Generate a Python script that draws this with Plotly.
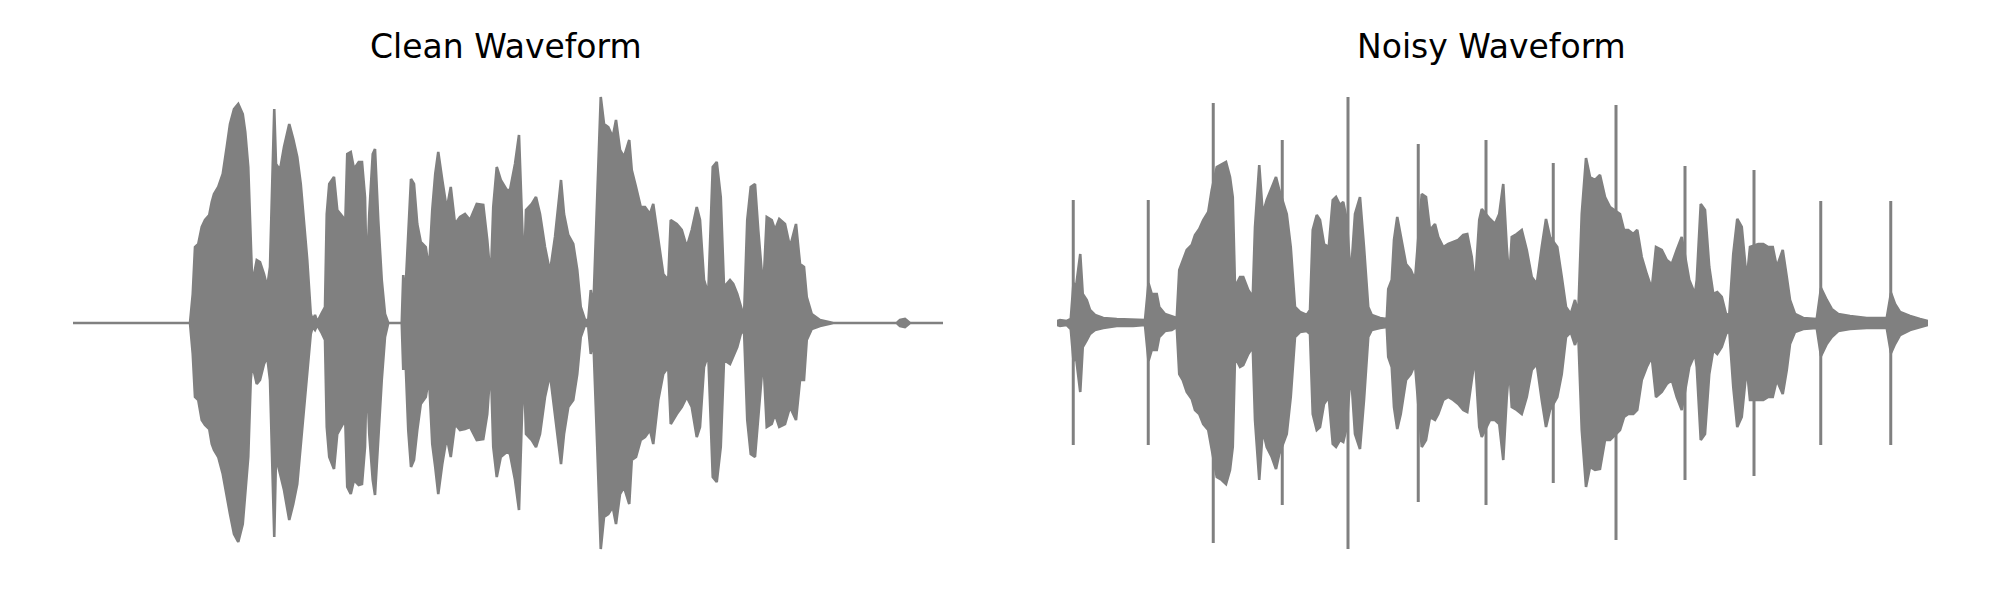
import plotly.graph_objects as go

# ---------------- data (time in ms, amplitude in int16 counts) ----------------
clean_t_ms = [
    0, 468, 479, 488, 501, 515, 528, 545, 555, 564,
    581, 599, 615, 628, 644, 661, 679, 689, 701, 711,
    717, 735, 748, 764, 777, 788, 796, 805, 812, 828,
    844, 865, 881, 897, 911, 924, 937, 951, 959, 968,
    977, 993, 1008, 1015, 1025, 1044, 1057, 1079, 1089, 1097,
    1111, 1124, 1143, 1156, 1168, 1175, 1185, 1199, 1208, 1221,
    1235, 1248, 1261, 1315, 1321, 1328, 1341, 1352, 1364, 1377,
    1391, 1411, 1424, 1437, 1449, 1461, 1477, 1495, 1511, 1528,
    1548, 1568, 1588, 1615, 1641, 1657, 1671, 1681, 1695, 1711,
    1735, 1748, 1768, 1784, 1796, 1804, 1812, 1835, 1852, 1868,
    1888, 1908, 1928, 1952, 1964, 1981, 2001, 2017, 2031, 2048,
    2061, 2071, 2081, 2097, 2111, 2124, 2141, 2159, 2172, 2188,
    2204, 2225, 2235, 2252, 2271, 2288, 2308, 2321, 2341, 2361,
    2381, 2391, 2415, 2435, 2455, 2475, 2495, 2508, 2524, 2541,
    2559, 2575, 2591, 2604, 2628, 2641, 2657, 2671, 2684, 2697,
    2711, 2728, 2741, 2761, 2775, 2795, 2808, 2825, 2848, 2868,
    2892, 2908, 2924, 2935, 2955, 2988, 3041, 3295, 3308, 3328,
    3348, 3480]

clean_max = [
    0, 0, 2900, 7600, 7900, 9600, 10300, 10800, 12100, 12900,
    13600, 14900, 17600, 19900, 21400, 21900, 20900, 19100, 15600, 6900,
    3900, 6300, 6100, 4900, 3600, 5600, 14300, 21400, 15900, 15300,
    17600, 19900, 18400, 16600, 13900, 10300, 6300, 900, 300, 800,
    100, 900, 1600, 10900, 13900, 14600, 11300, 10600, 9900, 16900,
    17100, 15400, 16100, 16100, 12600, 4300, 10900, 16900, 17400, 10300,
    4300, 900, 0, 0, 4800, 2300, 9300, 14400, 13900, 9900,
    8100, 7600, 5300, 11300, 14900, 17100, 14300, 11400, 13600, 9900,
    10600, 10900, 10300, 11900, 11800, 8300, 4300, 11600, 15600, 14300,
    13300, 13300, 15900, 18800, 10300, 4900, 11300, 11900, 12600, 10900,
    7600, 5100, 8600, 14300, 10900, 8800, 7900, 5300, 1600, 300,
    300, 3300, 1300, 12600, 22600, 19900, 19600, 18600, 20300, 17300,
    16600, 18300, 15300, 13600, 11600, 11600, 10900, 11900, 8300, 4900,
    4300, 10300, 9900, 9300, 7600, 9300, 11600, 10300, 4300, 2900,
    15600, 16100, 12600, 3600, 4300, 3900, 2900, 1600, 600, 10300,
    13600, 13900, 9300, 3300, 10600, 10300, 9300, 10400, 9900, 7600,
    9900, 5900, 5600, 2600, 900, 300, 0, 0, 300, 400,
    0, 0]

clean_min = [
    0, 0, -3100, -7400, -7700, -9700, -10200, -10600, -12100, -12700,
    -13400, -15100, -17400, -19100, -21100, -21900, -20100, -17400, -13400, -5700,
    -4100, -6100, -5700, -4100, -3400, -5700, -14100, -21400, -13400, -15100,
    -16700, -19700, -18100, -16100, -12400, -9100, -5100, -1100, -400, -700,
    -200, -900, -1700, -10400, -13400, -14600, -11100, -10100, -9700, -16400,
    -17100, -15700, -16200, -16100, -12400, -4700, -11100, -15700, -17200, -11100,
    -5700, -1400, 0, 0, -4700, -2400, -10700, -14400, -13700, -10700,
    -8100, -7400, -5400, -12100, -14400, -17100, -14100, -11400, -13400, -10100,
    -10700, -10600, -10400, -11700, -11600, -9100, -4100, -12400, -15400, -13400,
    -12900, -13100, -15700, -18700, -9100, -4700, -11100, -11700, -12400, -11100,
    -7400, -5100, -9100, -14100, -11100, -8400, -7700, -5100, -1400, -200,
    -400, -3100, -1400, -12400, -22600, -19400, -19100, -18400, -20100, -17100,
    -16400, -18100, -13700, -13400, -11700, -11400, -10700, -12100, -7700, -5100,
    -4400, -10100, -9100, -8400, -7400, -8400, -11400, -10400, -4400, -3100,
    -15400, -15900, -12400, -3700, -4100, -3400, -2400, -1100, -600, -9700,
    -13100, -13400, -9100, -3400, -10400, -10100, -9100, -10400, -10100, -8400,
    -9700, -5700, -5700, -1700, -600, -300, 0, 0, -300, -400,
    0, 0]

noisy_t_ms = [
    0, 12, 39, 55, 66, 76, 93, 103, 119, 132,
    152, 185, 239, 305, 352, 366, 379, 399, 409, 432,
    459, 479, 489, 503, 519, 539, 552, 569, 585, 605,
    619, 639, 659, 676, 692, 703, 712, 732, 745, 765,
    783, 792, 809, 823, 839, 859, 876, 889, 919, 935,
    952, 972, 999, 1012, 1023, 1039, 1052, 1068, 1087, 1103,
    1116, 1132, 1145, 1159, 1175, 1192, 1212, 1228, 1245, 1259,
    1292, 1319, 1325, 1339, 1348, 1361, 1375, 1396, 1415, 1432,
    1459, 1476, 1492, 1512, 1525, 1545, 1565, 1585, 1605, 1625,
    1641, 1659, 1672, 1689, 1699, 1732, 1752, 1769, 1785, 1799,
    1809, 1819, 1839, 1859, 1879, 1899, 1919, 1939, 1956, 1972,
    2001, 2019, 2036, 2055, 2072, 2085, 2099, 2116, 2132, 2152,
    2172, 2192, 2212, 2252, 2268, 2285, 2305, 2321, 2339, 2359,
    2379, 2396, 2419, 2439, 2459, 2479, 2499, 2529, 2552, 2559,
    2575, 2592, 2609, 2625, 2641, 2659, 2676, 2689, 2705, 2721,
    2739, 2759, 2772, 2805, 2825, 2845, 2863, 2879, 2903, 2919,
    2932, 2952, 2985, 3039, 3056, 3079, 3099, 3125, 3172, 3239,
    3319, 3336, 3352, 3372, 3412, 3452, 3484]

noisy_max = [
    200, 300, 200, 400, 4000, 3600, 6900, 2900, 2300, 1300,
    800, 500, 400, 300, 300, 4000, 2900, 2900, 1600, 900,
    700, 500, 5300, 6300, 7300, 7800, 8800, 9400, 10300, 11100,
    13300, 15600, 15900, 16100, 14600, 12600, 3600, 4600, 4600, 3300,
    2600, 9600, 15800, 10900, 12300, 13600, 14600, 13300, 10900, 7600,
    1600, 1100, 800, 1300, 9300, 10800, 10300, 7900, 7600, 12300,
    12600, 11800, 12100, 10300, 4600, 10900, 12600, 7600, 1600, 800,
    500, 400, 3400, 4300, 8300, 10600, 8600, 5900, 5300, 4300,
    12900, 12600, 9300, 9900, 8600, 7600, 7900, 8100, 8300, 8800,
    8900, 6600, 3600, 10300, 11400, 10400, 9900, 10900, 13900, 7600,
    4300, 8600, 8900, 9300, 7300, 4600, 3900, 7600, 10400, 8600,
    7600, 4600, 1600, 900, 2300, 900, 10900, 16500, 14600, 14300,
    14800, 12600, 11600, 10900, 9300, 9300, 8900, 9300, 6600, 4900,
    3400, 7600, 7300, 6300, 5900, 7300, 8600, 4300, 2900, 4300,
    11900, 11300, 5600, 2900, 3100, 2600, 900, 800, 6900, 10400,
    9600, 4300, 7600, 7900, 7900, 7600, 7600, 5600, 7300, 4600,
    2300, 900, 500, 400, 3500, 2300, 1400, 900, 700, 500,
    500, 3000, 1900, 1100, 700, 400, 200]

noisy_min = [
    -200, -300, -200, -600, -3800, -3400, -6900, -2400, -1700, -1100,
    -700, -500, -300, -300, -200, -3800, -2700, -2700, -1400, -800,
    -700, -400, -5100, -5700, -6900, -7600, -8700, -9100, -10100, -10700,
    -12700, -15400, -15700, -16100, -14700, -12400, -3400, -4400, -4200, -3100,
    -2400, -9700, -15700, -10700, -12400, -13400, -14600, -13100, -11100, -7400,
    -1400, -900, -800, -1100, -9100, -10700, -10400, -8100, -7400, -12100,
    -12400, -11700, -11900, -10400, -4700, -11100, -12600, -7700, -1400, -700,
    -500, -400, -3400, -4400, -8400, -10600, -9100, -5700, -5100, -4100,
    -12400, -11700, -9400, -9700, -9100, -7700, -7400, -7700, -8100, -8700,
    -8900, -5700, -3400, -10400, -11400, -9700, -9700, -10100, -13700, -7400,
    -4400, -8400, -8700, -9100, -7400, -4700, -4100, -7700, -10400, -8700,
    -7400, -5100, -1400, -900, -2200, -1100, -10700, -16400, -14400, -14700,
    -14600, -11700, -11700, -10700, -9400, -9100, -9100, -8700, -5700, -4400,
    -3400, -7400, -6900, -6100, -5700, -7400, -8700, -4400, -3100, -4400,
    -11700, -11100, -5100, -2700, -3100, -2400, -1100, -700, -6400, -10400,
    -9400, -4400, -7700, -7700, -7700, -7400, -7400, -5700, -7100, -4700,
    -2100, -900, -600, -500, -3300, -2100, -1400, -800, -600, -500,
    -500, -3000, -2100, -1200, -700, -400, -200]

# periodic noise clicks in the noisy recording
click_t_ms = [65, 365, 625, 901, 1164, 1445, 1716, 1985, 2236, 2512, 2788, 3055, 3335]
click_max = [12300, 12300, 22000, 18300, 22600, 17900, 18300, 16000, 21800, 15700, 15300, 12200, 12200]
click_min = [-12200, -12200, -22000, -18200, -22600, -17900, -18200, -16000, -21700, -15700, -15300, -12200, -12200]

titles = ["Clean Waveform", "Noisy Waveform"]

# ---------------- figure ----------------
GRAY = "#808080"
fig = go.Figure()


def envelope_trace(t, hi, lo, xa, ya):
    xs = list(t) + list(t)[::-1]
    ys = list(hi) + list(lo)[::-1]
    return go.Scatter(x=xs, y=ys, mode="lines", fill="toself",
                      fillcolor=GRAY, line=dict(color=GRAY, width=2.6),
                      xaxis=xa, yaxis=ya, hoverinfo="skip", showlegend=False)


fig.add_trace(envelope_trace(clean_t_ms, clean_max, clean_min, "x", "y"))
fig.add_trace(envelope_trace(noisy_t_ms, noisy_max, noisy_min, "x2", "y2"))

sx, sy = [], []
for t, hi, lo in zip(click_t_ms, click_max, click_min):
    sx += [t, t, None]
    sy += [hi, lo, None]
fig.add_trace(go.Scatter(x=sx, y=sy, mode="lines", line=dict(color=GRAY, width=3),
                         xaxis="x2", yaxis="y2", hoverinfo="skip", showlegend=False))

axis_off = dict(visible=False, showgrid=False, zeroline=False, showticklabels=False, fixedrange=True)
yr = [-28500, 31500]
title_font = dict(family="DejaVu Sans", size=33, color="black")
fig.update_layout(
    width=2000, height=600,
    margin=dict(l=0, r=0, t=0, b=0),
    paper_bgcolor="white", plot_bgcolor="white",
    xaxis=dict(domain=[0.0325, 0.4675], range=[0, clean_t_ms[-1]], **axis_off),
    yaxis=dict(domain=[0, 1], range=yr, **axis_off),
    xaxis2=dict(domain=[0.5245, 0.96], range=[0, noisy_t_ms[-1]], anchor="y2", **axis_off),
    yaxis2=dict(domain=[0, 1], range=yr, anchor="x2", **axis_off),
    annotations=[
        dict(text=titles[0], x=0.249, y=1 - 39 / 600, xref="paper", yref="paper",
             xanchor="center", yanchor="middle", showarrow=False, font=title_font),
        dict(text=titles[1], x=0.7415, y=1 - 39 / 600, xref="paper", yref="paper",
             xanchor="center", yanchor="middle", showarrow=False, font=title_font),
    ],
)

fig.write_html("out.html")
